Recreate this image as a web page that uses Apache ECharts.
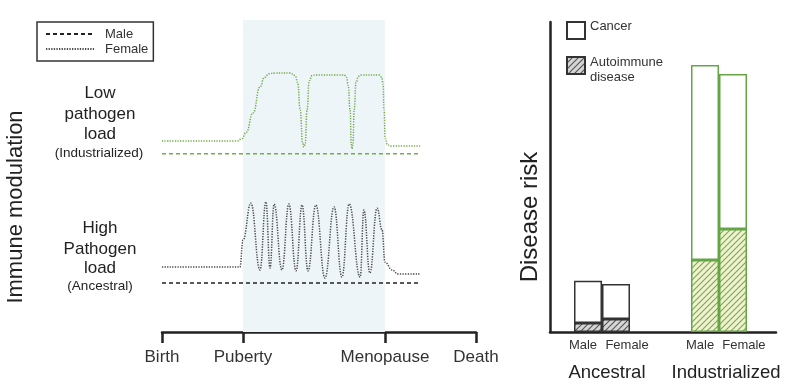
<!DOCTYPE html>
<html><head><meta charset="utf-8">
<script src="https://cdn.jsdelivr.net/npm/echarts@6/dist/echarts.min.js"></script>
<style>html,body{margin:0;padding:0;background:#fff}#c{width:807px;height:390px}</style>
</head><body><div id="c"></div>
<script>
// ---------- Left panel: life course (arbitrary 0-100 scale) ----------
const lifeStageValues = [0, 25.8, 71.0, 100];
const lifeStageLabels = ['Birth', 'Puberty', 'Menopause', 'Death'];
const reproductiveSpan = [25.8, 71.0];

const lowParityFemale = [[0,61.2],[23.9,61.2],[25.5,62.0],[26.8,64.0],[29.0,70.2],[31.2,78.5],[32.6,81.6],[34.2,82.8],[36.0,83.0],[40.8,83.0],[42.4,82.2],[43.2,80.0],[44.0,71.2],[44.8,60.5],[45.2,59.3],[45.6,60.5],[46.2,71.2],[46.9,80.5],[47.8,82.2],[49.0,82.4],[58.0,82.4],[58.8,81.6],[59.3,79.0],[59.9,71.2],[60.3,60.0],[60.5,58.7],[60.8,60.0],[61.2,71.2],[61.8,80.0],[62.6,82.0],[63.6,82.4],[69.2,82.4],[70.0,81.6],[70.4,79.5],[70.7,71.2],[71.1,62.0],[71.8,60.0],[72.9,59.6],[82.2,59.6]];
const lowParityMale = [[0,57.1],[82.2,57.1]];
const highParityFemale = [[0,20.8],[24.8,20.8],[25.8,29.5],[28.3,41.3],[31.2,19.9],[33.1,41.7],[34.4,20.5],[35.7,41.0],[38.2,19.9],[40.4,41.0],[42.7,19.6],[44.6,40.7],[46.5,19.6],[49.0,40.7],[51.9,17.3],[54.8,40.1],[57.3,17.6],[59.6,41.0],[63.1,17.6],[64.3,39.1],[66.2,18.9],[68.5,39.7],[70.1,32.7],[71.0,22.4],[73.3,19.9],[75.2,18.6],[82.2,18.6]];
const highParityMale = [[0,15.7],[82.2,15.7]];

// ---------- Right panel: disease risk ----------
const populations = ['Ancestral', 'Industrialized'];
const maleAutoimmune = [2.9, 23.2];
const maleCancer = [13.6, 62.9];
const femaleAutoimmune = [4.2, 33.2];
const femaleCancer = [11.3, 50.0];
const sexLabelPositions = [14.6, 34.1, 66.4, 85.8];
const sexLabelTexts = ['Male', 'Female', 'Male', 'Female'];
const populationLabelPositions = [25.2, 77.9];

const GREEN = '#64a646';
const GREEN_LINE = '#74ad4e';
const DARK = '#222';
const FONT = 'Liberation Sans, Arial, sans-serif';

function hatch(bg, fg) {
  const c = document.createElement('canvas');
  c.width = 6; c.height = 6;
  const g = c.getContext('2d');
  g.fillStyle = bg; g.fillRect(0, 0, 6, 6);
  g.strokeStyle = fg; g.lineWidth = 1.1;
  g.beginPath();
  g.moveTo(0, 6); g.lineTo(6, 0);
  g.moveTo(-1, 1); g.lineTo(1, -1);
  g.moveTo(5, 7); g.lineTo(7, 5);
  g.stroke();
  return { image: c, repeat: 'repeat' };
}
const grayHatch = hatch('#d6d6d6', '#555');
const greenHatch = hatch('#eef2cf', '#7aa84e');

function lookup(vals, labels) {
  return function (v) {
    for (let i = 0; i < vals.length; i++) if (Math.abs(vals[i] - v) < 1e-6) return labels[i];
    return '';
  };
}

function barItems(values, greenFill) {
  return values.map((v, i) => ({
    value: v,
    itemStyle: i === 1 ? { color: greenFill, borderColor: GREEN } : undefined
  }));
}

const chart = echarts.init(document.getElementById('c'));
chart.setOption({
  animation: false,
  textStyle: { fontFamily: FONT },
  grid: [
    { left: 162, top: 20, width: 314, height: 312 },
    { left: 550, top: 22, width: 226, height: 310 },
    { left: 543.5, top: 22, width: 234, height: 310 }
  ],
  xAxis: [
    { gridIndex: 0, type: 'value', min: 0, max: 100,
      axisLine: { show: true, lineStyle: { color: DARK, width: 2.5 } },
      axisTick: { show: true, customValues: lifeStageValues, length: 11, lineStyle: { color: DARK, width: 2.5 } },
      axisLabel: { customValues: lifeStageValues, formatter: lookup(lifeStageValues, lifeStageLabels),
        fontSize: 17, color: '#333', margin: 17 },
      splitLine: { show: false } },
    { gridIndex: 1, type: 'value', min: 0, max: 100,
      axisLine: { show: true, onZero: false, lineStyle: { color: DARK, width: 2.5 } },
      axisTick: { show: false },
      axisLabel: { customValues: sexLabelPositions, formatter: lookup(sexLabelPositions, sexLabelTexts),
        fontSize: 13, color: '#333', margin: 7 },
      splitLine: { show: false } },
    { gridIndex: 1, type: 'value', min: 0, max: 100, position: 'bottom',
      axisLine: { show: false }, axisTick: { show: false },
      axisLabel: { customValues: populationLabelPositions, formatter: lookup(populationLabelPositions, populations),
        fontSize: 18.5, color: DARK, margin: 31 },
      splitLine: { show: false } },
    { gridIndex: 2, type: 'category', data: populations, show: false }
  ],
  yAxis: [
    { gridIndex: 0, type: 'value', min: 0, max: 100, show: false },
    { gridIndex: 1, type: 'value', min: 0, max: 100,
      axisLine: { show: true, lineStyle: { color: DARK, width: 2.5 } },
      axisTick: { show: false }, axisLabel: { show: false }, splitLine: { show: false } },
    { gridIndex: 2, type: 'value', min: 0, max: 100, show: false }
  ],
  legend: [
    { data: ['Male', 'Female'], orient: 'vertical', left: 37, top: 22,
      itemWidth: 48, itemHeight: 10, itemGap: 1,
      borderColor: '#333', borderWidth: 1.5, padding: [5, 5, 5, 8],
      itemStyle: { opacity: 0 },
      textStyle: { fontSize: 13, color: '#333', lineHeight: 14, padding: [0, 0, 0, 6] } },
    { data: ['Cancer', 'Autoimmune\ndisease'], orient: 'vertical', left: 566, top: 19,
      padding: 0, itemWidth: 18, itemHeight: 17, itemGap: 4.5, icon: 'rect',
      formatter: (name) => name === 'Cancer'
        ? '{t|Cancer}\n{s| }'
        : '{s| }\n{t|Autoimmune}\n{t|disease}',
      textStyle: { fontSize: 13, color: '#333', lineHeight: 15,
        rich: { t: { fontSize: 13, color: '#333', lineHeight: 15 }, s: { fontSize: 6, lineHeight: 8 } } } }
  ],
  series: [
    { type: 'line', name: 'Female', xAxisIndex: 0, yAxisIndex: 0, data: highParityFemale,
      symbol: 'none', showSymbol: false, smooth: 0.45, smoothMonotone: 'x', color: '#4a4a4a',
      lineStyle: { color: '#4a4a4a', width: 1.5, type: [1.3, 1.3] },
      markArea: { silent: true, itemStyle: { color: '#eef5f9' },
        data: [[{ xAxis: reproductiveSpan[0] }, { xAxis: reproductiveSpan[1] }]] } },
    { type: 'line', name: 'Male', xAxisIndex: 0, yAxisIndex: 0, data: highParityMale,
      symbol: 'none', showSymbol: false, color: DARK, lineStyle: { color: DARK, width: 1.5, type: [4, 3] } },
    { type: 'line', name: 'Female', xAxisIndex: 0, yAxisIndex: 0, data: lowParityFemale,
      symbol: 'none', showSymbol: false, smooth: 0.5, smoothMonotone: 'x', color: GREEN_LINE,
      lineStyle: { color: GREEN_LINE, width: 1.5, type: [1.3, 1.3] } },
    { type: 'line', name: 'Male', xAxisIndex: 0, yAxisIndex: 0, data: lowParityMale,
      symbol: 'none', showSymbol: false, color: GREEN_LINE, lineStyle: { color: GREEN_LINE, width: 1.5, type: [4, 3] } },

    { type: 'bar', name: 'Autoimmune\ndisease', xAxisIndex: 3, yAxisIndex: 2, stack: 'male',
      barWidth: 28, barGap: '0%',
      itemStyle: { color: grayHatch, borderColor: '#333', borderWidth: 1.5 },
      data: barItems(maleAutoimmune, greenHatch) },
    { type: 'bar', name: 'Cancer', xAxisIndex: 3, yAxisIndex: 2, stack: 'male',
      barWidth: 28, barGap: '0%',
      itemStyle: { color: '#fff', borderColor: '#333', borderWidth: 1.5 },
      data: barItems(maleCancer, '#fff') },
    { type: 'bar', name: 'Autoimmune\ndisease', xAxisIndex: 3, yAxisIndex: 2, stack: 'female',
      barWidth: 28, barGap: '0%',
      itemStyle: { color: grayHatch, borderColor: '#333', borderWidth: 1.5 },
      data: barItems(femaleAutoimmune, greenHatch) },
    { type: 'bar', name: 'Cancer', xAxisIndex: 3, yAxisIndex: 2, stack: 'female',
      barWidth: 28, barGap: '0%',
      itemStyle: { color: '#fff', borderColor: '#333', borderWidth: 1.5 },
      data: barItems(femaleCancer, '#fff') }
  ],
  graphic: [
    { type: 'text', x: 16, y: 207, rotation: Math.PI / 2,
      style: { text: 'Immune modulation', font: '22px ' + FONT, fill: DARK, align: 'center', verticalAlign: 'middle' } },
    { type: 'text', x: 530, y: 217, rotation: Math.PI / 2,
      style: { text: 'Disease risk', font: '24px ' + FONT, fill: DARK, align: 'center', verticalAlign: 'middle' } },
    { type: 'text', x: 315, y: 55,
      style: { text: 'Low parity', font: '20px ' + FONT, fill: '#6aab3c', align: 'center', verticalAlign: 'middle' } },
    { type: 'text', x: 315, y: 187,
      style: { text: 'High parity', font: '21px ' + FONT, fill: DARK, align: 'center', verticalAlign: 'middle' } },
    { type: 'text', x: 100, y: 93, style: { text: 'Low', font: '17px ' + FONT, fill: DARK, align: 'center', verticalAlign: 'middle' } },
    { type: 'text', x: 100, y: 114, style: { text: 'pathogen', font: '17px ' + FONT, fill: DARK, align: 'center', verticalAlign: 'middle' } },
    { type: 'text', x: 100, y: 134, style: { text: 'load', font: '17px ' + FONT, fill: DARK, align: 'center', verticalAlign: 'middle' } },
    { type: 'text', x: 99, y: 153, style: { text: '(Industrialized)', font: '13.5px ' + FONT, fill: DARK, align: 'center', verticalAlign: 'middle' } },
    { type: 'text', x: 100, y: 228, style: { text: 'High', font: '17px ' + FONT, fill: DARK, align: 'center', verticalAlign: 'middle' } },
    { type: 'text', x: 100, y: 249, style: { text: 'Pathogen', font: '17px ' + FONT, fill: DARK, align: 'center', verticalAlign: 'middle' } },
    { type: 'text', x: 100, y: 268, style: { text: 'load', font: '17px ' + FONT, fill: DARK, align: 'center', verticalAlign: 'middle' } },
    { type: 'text', x: 100, y: 286, style: { text: '(Ancestral)', font: '13.5px ' + FONT, fill: DARK, align: 'center', verticalAlign: 'middle' } }
  ]
});
</script></body></html>
